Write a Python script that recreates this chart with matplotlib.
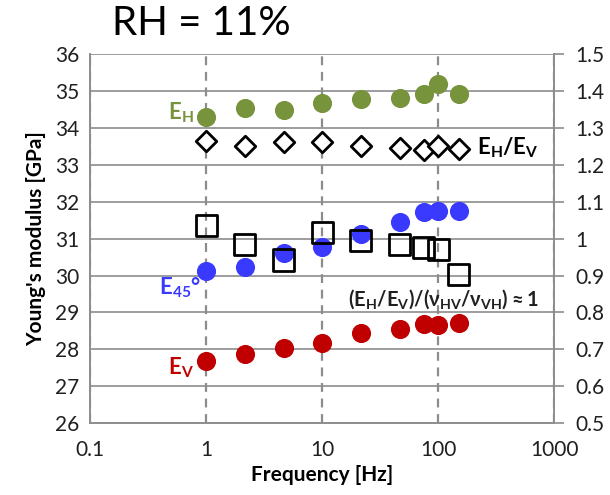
import matplotlib.pyplot as plt
from matplotlib.ticker import FixedLocator, FixedFormatter

plt.rcParams['font.family'] = ['Lato', 'DejaVu Sans']
plt.rcParams['mathtext.fontset'] = 'custom'
plt.rcParams['mathtext.rm'] = 'Lato'
plt.rcParams['mathtext.bf'] = 'Lato:bold'
plt.rcParams['mathtext.default'] = 'bf'

freq = [1, 2.15, 4.64, 10, 21.5, 46.4, 75, 100, 150]
e_h = [34.29, 34.54, 34.48, 34.66, 34.77, 34.82, 34.92, 35.18, 34.92]
e_45 = [30.11, 30.24, 30.60, 30.78, 31.12, 31.46, 31.71, 31.74, 31.74]
e_v = [27.69, 27.88, 28.04, 28.18, 28.45, 28.56, 28.69, 28.67, 28.72]
ratio_e = [1.264, 1.252, 1.261, 1.261, 1.250, 1.246, 1.239, 1.252, 1.243]
ratio_nu = [1.035, 0.983, 0.942, 1.017, 0.996, 0.983, 0.977, 0.970, 0.902]

verde = '#77933C'
azul = '#3A3AFF'
vermelho = '#C00000'
cinza = '#8C8C8C'

fig = plt.figure(figsize=(6.1, 4.95), dpi=100)
ax = fig.add_axes([0.148, 0.145, 0.761, 0.746])
ax2 = ax.twinx()

ax.set_xscale('log')
ax.set_xlim(0.1, 1000)
ax.set_ylim(26, 36)
ax2.set_ylim(0.5, 1.5)

# grade: horizontais continuas, verticais tracejadas nas decadas
ax.set_yticks(range(26, 37))
for y in range(27, 37):
    ax.axhline(y, color=cinza, lw=1.2, zorder=0)
for x in [0.1, 1, 10, 100, 1000]:
    ax.axvline(x, color=cinza, lw=1.6, ls=(0, (4, 3)), zorder=0)

ax.xaxis.set_major_locator(FixedLocator([0.1, 1, 10, 100, 1000]))
ax.xaxis.set_major_formatter(FixedFormatter(['0.1', '1', '10', '100', '1000']))
ax.xaxis.set_minor_locator(FixedLocator([]))
ax2.set_yticks([0.5, 0.6, 0.7, 0.8, 0.9, 1.0, 1.1, 1.2, 1.3, 1.4, 1.5])
ax2.set_yticklabels(['0.5', '0.6', '0.7', '0.8', '0.9', '1', '1.1', '1.2', '1.3', '1.4', '1.5'])

for a in (ax, ax2):
    for s in a.spines.values():
        s.set_color(cinza)
        s.set_linewidth(1.2)
    a.spines['top'].set_visible(False)
ax.tick_params(axis='both', length=0, labelsize=15, colors='#202020', pad=8)
ax.tick_params(axis='x', pad=12)
ax2.tick_params(axis='y', length=7, width=1.2, color=cinza, labelsize=15,
                labelcolor='#202020', pad=8)

ax.scatter(freq, e_h, s=190, color=verde, zorder=3, linewidths=0)
ax.scatter(freq, e_45, s=190, color=azul, zorder=3, linewidths=0)
ax.scatter(freq, e_v, s=190, color=vermelho, zorder=3, linewidths=0)
ax2.scatter(freq, ratio_e, s=110, marker='D', facecolor='white', edgecolor='black',
            linewidths=2, zorder=4)
ax2.scatter(freq, ratio_nu, s=230, marker='s', facecolor='none', edgecolor='black',
            linewidths=2, zorder=4)

ax.set_xlabel('Frequency [Hz]', fontsize=15, fontweight='bold')
ax.set_ylabel("Young's modulus [GPa]", fontsize=15, fontweight='bold', labelpad=6)

kw = dict(fontsize=16, fontweight='bold')
ax.text(0.78, 34.4, r'E$_{H}$', color=verde, ha='right', va='center', **kw)
ax.text(0.9, 29.68, r'E$_{45}$°', color=azul, ha='right', va='center', **kw)
ax.text(0.78, 27.5, r'E$_{V}$', color=vermelho, ha='right', va='center', **kw)
ax.text(215, 33.45, r'E$_{H}$/E$_{V}$', color='black', ha='left', va='center', **kw)
ax.text(16.5, 29.35, r'(E$_{H}$/E$_{V}$)/($\nu_{HV}$/$\nu_{VH}$)$\approx$1',
        color='#202020', ha='left', va='center', fontsize=14.5, fontweight='bold')

fig.text(0.33, 0.952, 'RH = 11%', fontsize=29, ha='center', va='center')

fig.savefig('out.png', dpi=100)
